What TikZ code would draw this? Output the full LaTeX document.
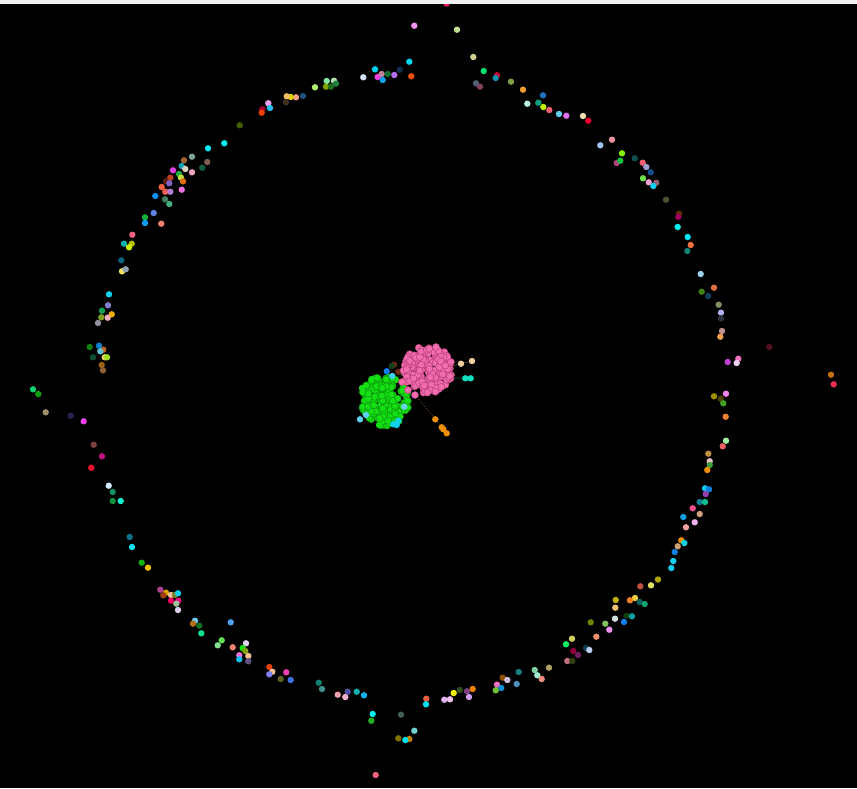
\documentclass[tikz,border=0pt]{standalone}
\newcommand\dt[3]{\definecolor{dc}{HTML}{#3}\fill[dc] (#1,#2) circle[radius=3.2pt];}
\definecolor{pinkc}{HTML}{F26CAE}
\definecolor{pinkd}{HTML}{B8407A}
\definecolor{grnc}{HTML}{14E014}
\definecolor{grnd}{HTML}{0C9A0C}
\definecolor{topstrip}{HTML}{F2F2F2}
\definecolor{edgebrown}{HTML}{6A4A18}
\definecolor{edgeteal}{HTML}{207070}
\definecolor{edgepeach}{HTML}{6A5A40}
\begin{document}
\begin{tikzpicture}[x=1pt,y=-1pt]
\useasboundingbox (0,0) rectangle (857,788);
\fill[black] (0,0) rectangle (857,788);
% ring: top-left
\dt{326.7}{81}{80E8A0}\dt{334}{80.7}{B0E0B0}\dt{326}{86.7}{80A000}\dt{331}{86.7}{207020}
\dt{336}{83.7}{208040}\dt{315}{87.3}{B0F070}\dt{303}{96}{205080}\dt{296}{97.3}{F0A080}
\dt{290.7}{97}{E0D000}\dt{286.7}{96.3}{F0C060}\dt{286}{102.3}{403020}\dt{268.3}{103.3}{F0A0F0}
\dt{270}{108}{20C0F0}\dt{262.3}{109.3}{A00030}\dt{261.7}{112.7}{F04000}\dt{239.7}{125.3}{406000}
\dt{224.3}{143.3}{00F0F0}\dt{208}{148.3}{00E8F0}\dt{192}{156.7}{80A090}\dt{184}{160.3}{A06030}
\dt{207.3}{162}{806050}\dt{181.7}{166}{10A0B0}\dt{185.3}{169}{E0D0C0}\dt{202.3}{167.7}{106040}
\dt{173}{170.3}{E040E0}\dt{192}{172.3}{F0A0C0}\dt{179}{174}{20B040}\dt{181}{177.7}{C0E040}
\dt{170.3}{177.7}{C04020}\dt{183}{181.3}{E07010}\dt{166}{181.3}{602010}\dt{169.3}{183.3}{8060C0}
\dt{161.7}{187}{F06040}\dt{165.3}{191.7}{F06050}\dt{170.3}{191.7}{B080D0}\dt{181.7}{189.7}{F070E0}
\dt{155.3}{196}{1090F0}\dt{165}{199.3}{408060}\dt{169.3}{204}{40B080}\dt{153.7}{213}{6080E0}
\dt{145}{217.3}{10B040}\dt{145}{223}{10A0F0}\dt{161.3}{223.7}{F08070}\dt{132.3}{234.7}{F06080}
\dt{124}{243.7}{10B0B0}\dt{131.7}{243.7}{B0C000}\dt{129}{247.3}{D0F000}\dt{121.3}{260.3}{106080}
\dt{122}{271.3}{F0E060}\dt{125.7}{269.3}{90A0B0}
% ring: top
\dt{414.3}{25.7}{F090F0}\dt{457}{29.7}{C0E090}\dt{473.3}{57}{D0D090}\dt{483.7}{71}{00E070}
\dt{497}{75.3}{D00030}\dt{495.7}{78}{1090B0}\dt{511}{81.7}{80A040}\dt{476}{83.3}{506070}
\dt{480}{86.7}{804060}\dt{523}{89.7}{F0A030}\dt{543}{95.3}{2070C0}\dt{527.3}{103.7}{C0F0E0}
\dt{538.3}{102.7}{10A080}\dt{543.3}{107}{C0F000}\dt{549.3}{110}{F06070}\dt{559}{114}{60D0F0}
\dt{566.3}{115.7}{E070F0}\dt{583}{116}{F0E0B0}\dt{588.3}{120.7}{F00030}\dt{600.3}{145.3}{A0C0F0}
\dt{612}{139.7}{F090A0}\dt{622}{153.3}{80F000}\dt{616.7}{163}{B04080}\dt{620.3}{160.7}{10C040}
\dt{363.3}{77.3}{D0E0F8}\dt{375}{69.3}{00D0F0}\dt{377.7}{77}{F040E0}\dt{381.7}{74}{C080A0}
\dt{382.7}{80}{10A0F0}\dt{387.7}{74}{107030}\dt{394.3}{75}{B070F0}\dt{399.7}{69.7}{103050}
\dt{409.3}{61.7}{00D8F0}\dt{411.3}{76.3}{F05000}
% ring: top-right
\dt{634.7}{158.3}{105050}\dt{642.7}{162.7}{F06070}\dt{646.3}{167}{A0A0D0}\dt{650.7}{172.3}{105090}
\dt{643}{178.3}{70E050}\dt{648.7}{182.3}{F0A0D0}\dt{656.3}{182.7}{906070}\dt{653.3}{186}{10D0F0}
\dt{666}{199.7}{505030}\dt{679}{213.7}{603000}\dt{678.3}{216.7}{A00060}\dt{677.7}{227}{00F0F0}
\dt{687.7}{237}{00E8F8}\dt{690.7}{245}{F07040}\dt{687.3}{251}{108070}\dt{700.7}{274}{A0D0F0}
\dt{714}{287.7}{E07040}\dt{701.7}{291.7}{408010}\dt{708.3}{296}{104060}\dt{718.7}{304.7}{809060}
\dt{721}{312.7}{B0B0F0}\dt{721}{318.3}{303040}\dt{722}{331}{C09090}\dt{720.3}{336.7}{F0A050}
% ring: right
\dt{738.3}{358.7}{F070C0}\dt{736.7}{363}{F0D0F0}\dt{727.7}{362}{C040D0}\dt{726}{393.7}{F080F0}
\dt{714}{396.3}{A09000}\dt{720.7}{398.7}{504000}\dt{723.3}{403.3}{40A020}\dt{725.7}{416.7}{F08030}
\dt{726}{440.7}{A0F0A0}\dt{722.7}{446.3}{F06060}\dt{708.3}{453.7}{C09040}\dt{709.7}{461.3}{F0C0C0}
\dt{709.7}{465}{40A040}\dt{707.3}{470}{F09000}\dt{705}{488.3}{10C0F0}\dt{709}{489.3}{1080E0}
\dt{705.7}{494}{9040B0}\dt{699.7}{502}{108090}\dt{705}{502}{10C090}\dt{692.7}{508.3}{F05090}
\dt{699.7}{514}{D0A080}\dt{683.3}{517}{10A0E0}\dt{694.7}{522.3}{F0B0F0}\dt{686}{527.3}{F0A0A0}
\dt{681.3}{540.3}{F09000}\dt{684.3}{543}{10D0E0}\dt{677.7}{546.3}{D0A070}\dt{674.7}{552}{1080E0}
\dt{673.3}{561}{10D0F0}\dt{671.3}{568}{10C8F0}\dt{658}{579.5}{B0A800}
\dt{769.3}{347}{501020}\dt{831}{374.7}{C07010}\dt{833.7}{384.3}{F03050}
% ring: bottom-right
\dt{651}{585.3}{E0E060}\dt{640.3}{586.3}{C05040}\dt{635}{598}{F0D040}\dt{630}{600.3}{F08020}
\dt{639.7}{602}{106060}\dt{644.7}{604}{10A070}\dt{615.7}{600}{C0B000}\dt{615.3}{607.7}{F0C070}
\dt{626.7}{615.7}{104010}\dt{632}{616.3}{10A0A0}\dt{624}{622}{1080F0}\dt{615}{618.7}{D0E0E0}
\dt{605.3}{623.7}{80C060}\dt{609.3}{629.7}{F090F0}\dt{590.7}{622.3}{708000}\dt{596.3}{636.7}{F09070}
\dt{572}{638.7}{D0D060}\dt{566}{644.3}{10F060}\dt{573.3}{651}{900040}\dt{578}{655}{702060}
\dt{586}{648}{104050}\dt{589.3}{650}{C0D0F0}\dt{567.3}{661}{C07080}\dt{572.3}{661}{304010}
\dt{549}{667.7}{B0A060}\dt{534.7}{670}{80D0A0}\dt{537.3}{675.3}{A0F0D0}\dt{541.7}{679}{F09080}
\dt{518.7}{672}{108080}\dt{516.7}{684}{5090C0}\dt{502.7}{677.7}{905000}\dt{507.3}{680}{D0C0E0}
\dt{497}{684.7}{F070C0}\dt{501.3}{688}{1090D0}\dt{495.7}{690.3}{70C030}
% ring: bottom
\dt{246}{643.3}{E0D0F0}\dt{242.7}{648}{10E010}\dt{245.3}{651}{80A010}\dt{248.3}{656}{F0C090}
\dt{248.3}{661.3}{605080}\dt{239.3}{655.3}{F070E0}\dt{239.3}{659.3}{10C0F0}
\dt{269.3}{667}{E04010}\dt{272.3}{671.7}{F0C090}\dt{269.3}{674.3}{8080F0}\dt{286.3}{672.3}{F040B0}
\dt{280.7}{679}{606020}\dt{290.7}{680}{4070E0}\dt{318.7}{682.7}{108070}\dt{322}{689}{409090}
\dt{337.7}{694.7}{F0A0B0}\dt{345.3}{697}{F0B0D0}\dt{347.7}{691.7}{5050A0}\dt{356.7}{691.7}{10B0B0}
\dt{364}{695.3}{10B0F0}\dt{372.7}{714}{00F0F0}\dt{371.3}{720.7}{20B020}\dt{401}{714.7}{406050}
\dt{414.3}{730.7}{70D0D0}\dt{398.3}{738.3}{807000}\dt{409.3}{739}{C08000}\dt{405.3}{740}{00E0F0}
\dt{375.7}{775}{F06080}\dt{426.3}{698.7}{F06040}\dt{426}{704.3}{00E0F0}\dt{444.3}{699.7}{E0B0F0}
\dt{450}{699.3}{F0C0F0}\dt{453.7}{693}{F0F000}\dt{459.7}{690}{305020}\dt{467}{691.3}{804080}
\dt{469}{697}{D0A0F0}\dt{472.7}{689}{F08000}
% ring: left
\dt{109}{294.3}{10D0F0}\dt{108}{305.3}{8080D0}\dt{102}{310.7}{10A050}\dt{111.7}{314.3}{F0B000}
\dt{101.3}{317.3}{80A020}\dt{107.7}{317.7}{F0B0C0}\dt{98}{323}{9090A0}\dt{89.7}{347}{108010}
\dt{99}{345.7}{1080D0}\dt{103.3}{349.7}{C06020}\dt{100.3}{351.3}{60C0D0}\dt{93}{357.3}{105030}
\dt{104.7}{357.3}{F0D060}\dt{107}{357.3}{A0E020}\dt{101.7}{365}{A06010}\dt{103}{370.3}{906030}
\dt{33}{389.3}{10D070}\dt{38.3}{394}{10A010}\dt{45.7}{412.3}{A09070}\dt{70.7}{415.7}{302050}
\dt{83.7}{421.3}{F040F0}\dt{93.7}{444.7}{804040}\dt{102}{456.3}{C01080}\dt{91.3}{467.7}{F01030}
\dt{108.7}{485.7}{D0E8F8}\dt{112.7}{492}{109060}\dt{112.7}{501}{109040}\dt{120.7}{501}{10F0D0}
% ring: bottom-left
\dt{129.7}{537}{107090}\dt{132}{547}{10E0F0}\dt{141.7}{562.7}{10B010}\dt{148}{567.7}{F0C000}
\dt{160.3}{589.7}{B04090}\dt{166}{592.7}{E0A000}\dt{163.3}{595.3}{A04010}\dt{171}{595}{F0C0A0}
\dt{175}{595}{808020}\dt{178}{593.3}{10D0F0}\dt{171}{600.7}{F00060}\dt{178.3}{600.7}{F01080}
\dt{176.3}{603.7}{A0C0A0}\dt{178}{610}{E0D0F0}\dt{195}{620.7}{70C8F0}\dt{193}{623.7}{B07010}
\dt{199.3}{625.7}{107020}\dt{201.3}{633.3}{10E090}\dt{230.7}{622.3}{50A0F0}\dt{221.7}{640.3}{60E050}
\dt{217.7}{645.3}{80E090}\dt{232.7}{647.3}{F08070}
% top edge dot (partly under strip)
\dt{446.5}{3.5}{F02060}
% centre: edges
\draw[edgebrown, line width=0.6pt, dash pattern=on 1.5pt off 1.5pt] (413,392) -- (446.7,433.3);
\draw[edgepeach, line width=0.5pt] (448,367) -- (472,361);
\draw[edgeteal, line width=0.6pt] (452,378) -- (470.7,378.3);
% centre: green cluster
\pgfmathsetseed{11}
\foreach \i in {1,...,170}{
  \pgfmathsetmacro\rr{sqrt(rnd)}
  \pgfmathsetmacro\aa{360*rnd}
  \pgfmathsetmacro\px{385+24*\rr*cos(\aa)}
  \pgfmathsetmacro\py{400+26*\rr*sin(\aa)}
  \filldraw[fill=grnc, draw=grnd, line width=0.5pt] (\px,\py) circle[radius=3.5pt];
}
\dt{371.7}{379}{14E014}\dt{404}{373.3}{14E014}\dt{379}{425}{14E014}\dt{362}{388}{14E014}
\dt{394}{364.7}{6A2A10}\dt{398.3}{371.7}{6A2A10}\dt{391.7}{366}{104020}\dt{386.7}{371.3}{1080F0}
\dt{392.3}{376}{40D0F0}
% centre: pink cluster
\pgfmathsetseed{5}
\foreach \i in {1,...,180}{
  \pgfmathsetmacro\rr{sqrt(rnd)}
  \pgfmathsetmacro\aa{360*rnd}
  \pgfmathsetmacro\px{428+25*\rr*cos(\aa)}
  \pgfmathsetmacro\py{370+24*\rr*sin(\aa)}
  \filldraw[fill=pinkc, draw=pinkd, line width=0.5pt] (\px,\py) circle[radius=3.5pt];
}
\filldraw[fill=pinkc, draw=pinkd, line width=0.5pt] (408,390) circle[radius=3.5pt];
\filldraw[fill=pinkc, draw=pinkd, line width=0.5pt] (415,395) circle[radius=3.5pt];
\filldraw[fill=pinkc, draw=pinkd, line width=0.5pt] (402,382) circle[radius=3.5pt];
\filldraw[fill=pinkc, draw=pinkd, line width=0.5pt] (451,362) circle[radius=3.5pt];
\filldraw[fill=pinkc, draw=pinkd, line width=0.5pt] (450,376) circle[radius=3.5pt];
\filldraw[fill=pinkc, draw=pinkd, line width=0.5pt] (436,347) circle[radius=3.5pt];
% centre: satellites
\dt{461}{363.7}{F0D0A0}\dt{472}{361}{F0D0A0}\dt{465.3}{378.3}{10E0C0}\dt{470.7}{378.3}{10E0C0}
\dt{435.3}{419.3}{F09000}\dt{441.7}{427.3}{F09000}\dt{443.3}{429.3}{F09000}\dt{446.7}{433.3}{F09000}
\dt{360}{419.3}{60D0F0}\dt{366}{415}{60D0F0}\dt{393.3}{424.3}{10D0F0}\dt{398.3}{420.7}{10D0F0}
\dt{396.7}{425}{10D0F0}\dt{404.3}{406.7}{70D0F0}
% top strip
\fill[topstrip] (0,0) rectangle (857,4);
\end{tikzpicture}
\end{document}
